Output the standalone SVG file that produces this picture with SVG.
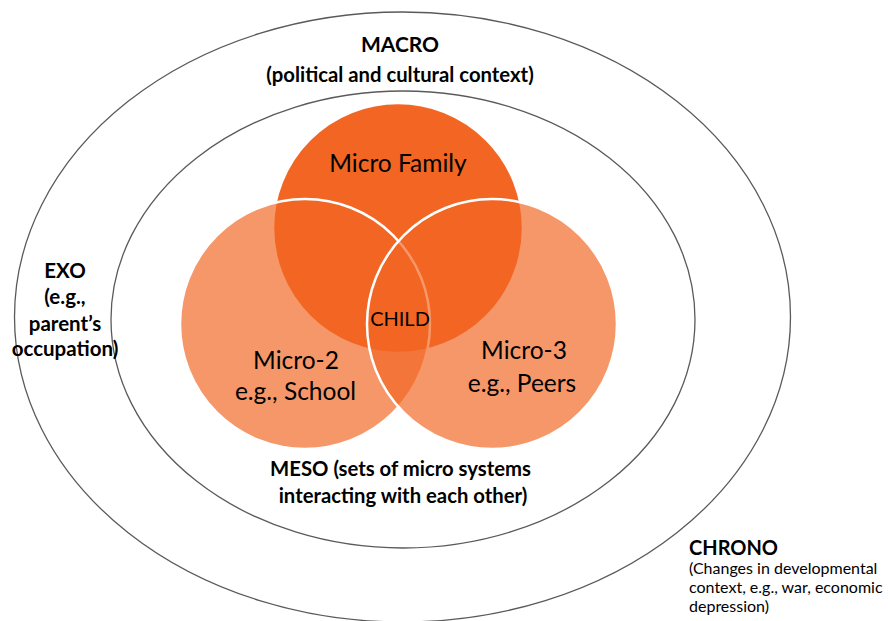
<svg xmlns="http://www.w3.org/2000/svg" width="888" height="621" viewBox="0 0 888 621">
<style>
.ring{fill:none;stroke:#5a5a5a;stroke-width:1.3}
.t{font-family:Lato,"Liberation Sans",sans-serif;fill:#000;text-anchor:middle}
.b{font-weight:bold}
.l{text-anchor:start}
.m{font-size:24.5px}
.fam{fill:#F26522;stroke:#ffffff;stroke-width:2.5}
.sub{fill:#F26522;fill-opacity:0.68;stroke:#ffffff;stroke-width:2.5}
</style>
<rect width="888" height="621" fill="#ffffff"/>
<g id="chrono">
<ellipse class="ring" cx="402.5" cy="317" rx="388" ry="305"/>
<text class="t b l" x="689" y="555" font-size="20">CHRONO</text>
<text class="t l" x="689" y="574" font-size="16">(Changes in developmental</text>
<text class="t l" x="689" y="593" font-size="16">context, e.g., war, economic</text>
<text class="t l" x="689" y="612" font-size="16">depression)</text>
</g>
<g id="macro">
<text class="t b" x="400" y="52" font-size="21">MACRO</text>
<text class="t b" x="400" y="82" font-size="20.3">(political and cultural context)</text>
</g>
<g id="exo">
<ellipse class="ring" cx="403" cy="319.5" rx="292" ry="228.5"/>
<text class="t b" x="65" y="278" font-size="20.5">EXO</text>
<text class="t b" x="65" y="304" font-size="20.5">(e.g.,</text>
<text class="t b" x="65" y="331" font-size="20.5">parent’s</text>
<text class="t b" x="65" y="356" font-size="20.5">occupation)</text>
</g>
<g id="meso">
<text class="t b" x="400.5" y="476" font-size="20.3">MESO (sets of micro systems</text>
<text class="t b" x="403" y="503" font-size="20.3">interacting with each other)</text>
</g>
<g id="micro-family">
<circle class="fam" cx="398" cy="228" r="125"/>
<text class="t m" x="398" y="172">Micro Family</text>
</g>
<g id="micro-2">
<circle class="sub" cx="305" cy="324" r="125"/>
<text class="t m" x="296" y="369">Micro-2</text>
<text class="t m" x="295.5" y="400">e.g., School</text>
</g>
<g id="micro-3">
<circle class="sub" cx="492" cy="324" r="125"/>
<text class="t m" x="524" y="359">Micro-3</text>
<text class="t m" x="522" y="392">e.g., Peers</text>
</g>
<g id="child">
<text class="t" x="400" y="326" font-size="20">CHILD</text>
</g>
<g id="connectors"/>
</svg>
